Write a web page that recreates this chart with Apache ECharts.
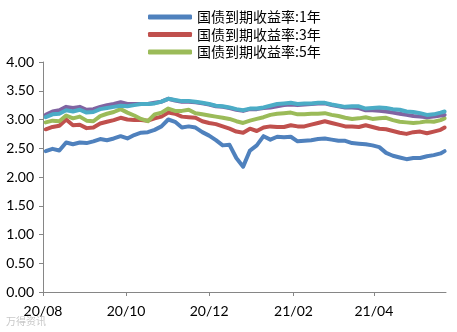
<!DOCTYPE html>
<html><head><meta charset="utf-8">
<script src="https://cdn.jsdelivr.net/npm/echarts@6/dist/echarts.min.js"></script>
<style>html,body{margin:0;padding:0;background:#fff}#c{width:457px;height:332px}</style>
</head><body><div id="c"></div>
<script>
const dates = ['2020-08-03','2020-08-08','2020-08-13','2020-08-18','2020-08-23','2020-08-28','2020-09-02','2020-09-07','2020-09-12','2020-09-17',
'2020-09-22','2020-09-27','2020-10-02','2020-10-07','2020-10-12','2020-10-17','2020-10-22','2020-10-27','2020-11-01','2020-11-06',
'2020-11-11','2020-11-16','2020-11-21','2020-11-26','2020-12-01','2020-12-06','2020-12-11','2020-12-16','2020-12-21','2020-12-26',
'2020-12-31','2021-01-05','2021-01-10','2021-01-15','2021-01-20','2021-01-25','2021-01-30','2021-02-04','2021-02-09','2021-02-14',
'2021-02-19','2021-02-24','2021-03-01','2021-03-06','2021-03-11','2021-03-16','2021-03-21','2021-03-26','2021-03-31','2021-04-05',
'2021-04-10','2021-04-15','2021-04-20','2021-04-25','2021-04-30','2021-05-05','2021-05-10','2021-05-15','2021-05-20','2021-05-23'];

const y1 = [2.45,2.49,2.46,2.60,2.57,2.60,2.59,2.62,2.66,2.64,
2.67,2.71,2.67,2.73,2.77,2.78,2.82,2.88,3.00,2.96,
2.86,2.88,2.86,2.78,2.72,2.64,2.55,2.56,2.33,2.18,
2.46,2.55,2.71,2.65,2.70,2.69,2.70,2.62,2.63,2.64,
2.66,2.67,2.65,2.63,2.63,2.59,2.58,2.57,2.55,2.52,
2.42,2.37,2.34,2.31,2.33,2.33,2.36,2.38,2.41,2.45];
const y3 = [2.83,2.87,2.89,3.00,2.90,2.91,2.85,2.86,2.93,2.96,
2.99,3.03,3.00,2.99,2.99,2.98,3.02,3.05,3.12,3.10,
3.05,3.04,3.03,2.97,2.94,2.92,2.88,2.84,2.79,2.77,
2.84,2.80,2.86,2.88,2.87,2.87,2.90,2.88,2.88,2.91,
2.94,2.97,2.94,2.91,2.88,2.88,2.87,2.90,2.87,2.84,
2.83,2.80,2.77,2.75,2.78,2.79,2.76,2.79,2.82,2.86];
const y5 = [2.95,2.98,2.97,3.07,3.02,3.05,2.98,2.97,3.06,3.10,
3.13,3.18,3.12,3.07,3.01,2.97,3.09,3.12,3.19,3.15,
3.15,3.17,3.11,3.09,3.07,3.05,3.03,3.01,2.97,2.94,
2.98,3.01,3.04,3.08,3.10,3.11,3.12,3.09,3.09,3.10,
3.10,3.11,3.08,3.06,3.03,3.01,3.02,3.04,3.01,3.02,
3.03,2.99,2.96,2.95,2.94,2.95,2.97,2.96,2.99,3.02];
const y7 = [3.08,3.14,3.16,3.22,3.20,3.22,3.17,3.18,3.22,3.25,
3.27,3.30,3.27,3.27,3.27,3.27,3.29,3.31,3.36,3.33,
3.31,3.31,3.30,3.28,3.26,3.23,3.22,3.20,3.17,3.15,
3.18,3.18,3.20,3.21,3.23,3.25,3.26,3.25,3.26,3.27,
3.28,3.28,3.25,3.23,3.21,3.21,3.20,3.16,3.16,3.15,
3.14,3.12,3.10,3.08,3.06,3.05,3.04,3.05,3.07,3.08];
const y10 = [3.04,3.09,3.10,3.16,3.14,3.17,3.12,3.13,3.18,3.20,
3.22,3.24,3.23,3.25,3.27,3.27,3.28,3.31,3.36,3.34,
3.32,3.32,3.31,3.29,3.27,3.24,3.23,3.21,3.18,3.16,
3.19,3.19,3.21,3.24,3.27,3.28,3.29,3.27,3.28,3.28,
3.29,3.29,3.26,3.24,3.22,3.23,3.23,3.19,3.20,3.21,
3.20,3.18,3.17,3.14,3.13,3.11,3.08,3.09,3.12,3.14];

const seriesNames = ['国债到期收益率:1年','国债到期收益率:3年','国债到期收益率:5年','国债到期收益率:7年','国债到期收益率:10年'];
const legendNames = ['国债到期收益率:1年','国债到期收益率:3年','国债到期收益率:5年'];
const xTickDates = ['2020-08-01','2020-10-01','2020-12-01','2021-02-01','2021-04-01'];
const xMin = '2020-08-01', xMax = '2021-05-24';
const yTicks = [0,0.5,1,1.5,2,2.5,3,3.5,4];

function ts(s){const p=s.split('-').map(Number);return new Date(p[0],p[1]-1,p[2]).getTime();}
function fmtX(v){const d=new Date(v);return String(d.getFullYear()%100).padStart(2,'0')+'/'+String(d.getMonth()+1).padStart(2,'0');}

const colors = ['#4F81BD','#C0504D','#9BBB59','#8064A2','#4BACC6'];
const values = [y1,y3,y5,y7,y10];
const tickTs = xTickDates.map(ts);
const fontNum = 'Lato, "Liberation Sans", sans-serif';

const chart = echarts.init(document.getElementById('c'), null, {renderer:'canvas'});
chart.setOption({
  animation:false,
  backgroundColor:'#fff',
  color:colors,
  grid:{left:43,right:11,top:62,bottom:40,containLabel:false},
  legend:{
    data:legendNames, orient:'vertical', left:143, top:5,
    itemWidth:44, itemHeight:5, itemGap:3.5, icon:'roundRect',
    textStyle:{fontFamily:'"Noto Sans CJK SC", sans-serif',fontSize:14,color:'#000',lineHeight:14}
  },
  xAxis:{
    type:'value', min:ts(xMin), max:ts(xMax), scale:true,
    axisLine:{show:true,onZero:false,lineStyle:{color:'#868686',width:1}},
    axisTick:{show:true,length:4,customValues:tickTs,lineStyle:{color:'#868686'}},
    axisLabel:{customValues:tickTs,formatter:fmtX,margin:12,fontFamily:fontNum,fontSize:14,color:'#000'},
    splitLine:{show:false}
  },
  yAxis:{
    type:'value', min:yTicks[0], max:yTicks[yTicks.length-1], interval:0.5,
    axisLine:{show:true,lineStyle:{color:'#868686',width:1}},
    axisTick:{show:true,length:4,lineStyle:{color:'#868686'}},
    axisLabel:{formatter:v=>v.toFixed(2),margin:9,fontFamily:fontNum,fontSize:14,color:'#000'},
    splitLine:{show:false}
  },
  graphic:[{type:'text',left:6,top:316,style:{text:'万得资讯',fontSize:10,fill:'#c8c8c8',fontFamily:'"Noto Sans CJK SC", sans-serif'}}],
  series: seriesNames.map((n,i)=>({
    name:n, type:'line', showSymbol:false, symbol:'none',
    lineStyle:{width:4,color:colors[i],cap:'round',join:'round'},
    data: dates.map((d,j)=>[ts(d),values[i][j]])
  }))
});
</script></body></html>
